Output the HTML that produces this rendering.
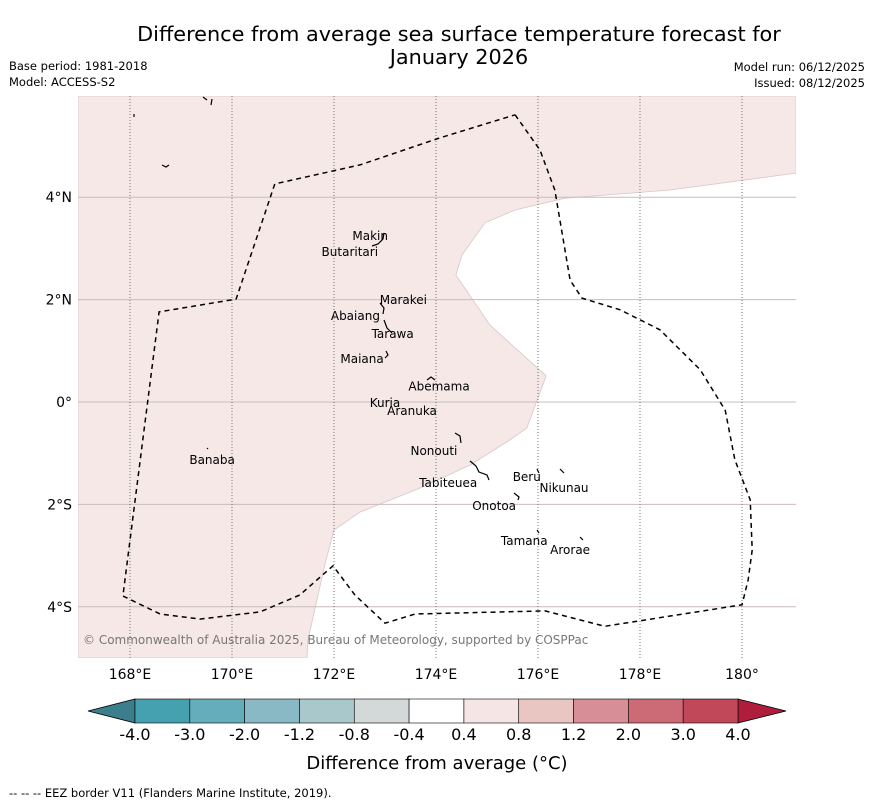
<!DOCTYPE html>
<html><head><meta charset="utf-8"><style>
body{margin:0;background:#fff;}
svg{display:block;font-family:"DejaVu Sans","Liberation Sans",sans-serif;}
</style></head><body>
<svg id="chart" width="873" height="804" viewBox="0 0 873 804">
<text x="459" y="41" font-size="20.8" text-anchor="middle">Difference from average sea surface temperature forecast for</text>
<text x="459" y="64" font-size="20.8" text-anchor="middle">January 2026</text>
<text x="9" y="70" font-size="11.5">Base period: 1981-2018</text>
<text x="9" y="86" font-size="11.5">Model: ACCESS-S2</text>
<text x="865" y="71" font-size="11.5" text-anchor="end">Model run: 06/12/2025</text>
<text x="865" y="87" font-size="11.5" text-anchor="end">Issued: 08/12/2025</text>
<g id="map"></g>
<g id="cbar"></g>
<text x="437" y="769" font-size="18" text-anchor="middle">Difference from average (°C)</text>
<text x="9" y="797" font-size="11.5">--  --  -- EEZ border V11 (Flanders Marine Institute, 2019).</text>
</svg>
<script>
const lonTicks=[168,170,172,174,176,178,180];
const lonLabels=["168°E","170°E","172°E","174°E","176°E","178°E","180°"];
const latTicks=[4,2,0,-2,-4];
const latLabels=["4°N","2°N","0°","2°S","4°S"];
const cbLevels=["-4.0","-3.0","-2.0","-1.2","-0.8","-0.4","0.4","0.8","1.2","2.0","3.0","4.0"];
const cbColors=["#45a0b0","#66adbb","#89b9c4","#a8c8cc","#d3d8d8","#ffffff","#f5e6e5","#eac6c2","#d88e96","#cc6a76","#c14858"];
const shadeLon=[181.06,178.59,176.53,175.55,174.96,174.51,174.39,175.06,176.16,175.78,175.45,174.67,173.69,172.51,172.0,171.82,171.49,171.47];
const shadeLat=[4.47,4.14,3.98,3.75,3.5,2.87,2.48,1.5,0.51,-0.51,-0.74,-1.23,-1.68,-2.15,-2.5,-3.18,-4.65,-5.0];
const eezLon=[175.55,176.04,176.33,176.63,176.86,177.61,178.39,179.18,179.67,179.86,180.16,180.2,180.12,180.0,177.31,176.14,173.59,173.0,172.41,171.98,171.33,170.55,169.37,168.59,167.86,168.57,170.08,170.84,172.51,174.08,175.55];
const eezLat=[5.61,4.92,4.14,2.38,2.03,1.8,1.41,0.63,-0.16,-1.13,-1.91,-2.89,-3.48,-3.96,-4.38,-4.08,-4.14,-4.32,-3.77,-3.2,-3.77,-4.1,-4.24,-4.14,-3.79,1.76,2.01,4.26,4.63,5.16,5.61];
const islandNames=["Makin","Butaritari","Marakei","Abaiang","Tarawa","Maiana","Abemama","Kuria","Aranuka","Nonouti","Banaba","Beru","Nikunau","Tabiteuea","Onotoa","Tamana","Arorae"];
const islandLon=[172.71,172.31,173.36,172.42,173.15,172.55,174.06,173.0,173.53,173.96,169.61,175.78,176.51,174.24,175.14,175.73,176.63];
const islandLat=[3.22,2.91,1.97,1.66,1.31,0.82,0.28,-0.04,-0.2,-0.98,-1.15,-1.48,-1.7,-1.6,-2.05,-2.73,-2.91];

const NS="http://www.w3.org/2000/svg";
const x0=78,x1=796,y0=96,y1=658;
const X=l=>130+(l-168)*51;
const Y=a=>402-a*51.2;
function mk(tag,attrs,parent){const e=document.createElementNS(NS,tag);for(const k in attrs)e.setAttribute(k,attrs[k]);parent.appendChild(e);return e;}
const map=document.getElementById('map');


const clip=mk('clipPath',{id:'mc'},mk('defs',{},map));
mk('rect',{x:x0,y:y0,width:x1-x0,height:y1-y0},clip);
const g=mk('g',{'clip-path':'url(#mc)'},map);
mk('rect',{x:x0,y:y0,width:x1-x0,height:y1-y0,fill:'#fff'},g);
let d='M'+x0+','+y0+' L'+x1+','+y0;
shadeLon.forEach((l,i)=>{d+=' L'+X(l).toFixed(1)+','+Y(shadeLat[i]).toFixed(1);});
d+=' L'+x0+','+y1+' Z';
const sh=mk('path',{d:d,fill:'#f5e8e7',stroke:'#d8c8c8','stroke-width':0.8},g);


latTicks.forEach((a,i)=>{
 const ln=mk('line',{x1:x0,x2:x1,y1:Y(a),y2:Y(a),stroke:'#c9bcbf','stroke-width':1},g);
 
 
 const t=mk('text',{x:72,y:Y(a)+5,'font-size':14,'text-anchor':'end'},map);
 t.textContent=latLabels[i];
 
 
});
lonTicks.forEach((l,i)=>{
 const ln=mk('line',{x1:X(l),x2:X(l),y1:y0,y2:y1,stroke:'#555','stroke-width':0.8,'stroke-dasharray':'1,2'},g);
 
 
 const t=mk('text',{x:X(l),y:679,'font-size':14,'text-anchor':'middle'},map);
 t.textContent=lonLabels[i];
 
 
});
let e='';
eezLon.forEach((l,i)=>{e+=(i?' L':'M')+X(l).toFixed(1)+','+Y(eezLat[i]).toFixed(1);});
const ez=mk('path',{d:e,fill:'none',stroke:'#000','stroke-width':1.5,'stroke-dasharray':'5,4'},g);


islandNames.forEach((n,i)=>{
 const t=mk('text',{x:X(islandLon[i]),y:Y(islandLat[i])+3,'font-size':12,'text-anchor':'middle'},g);
 t.textContent=n;
 
 
});
const shapes=["M372,246 l6,-2 l5,-5 l1,-6","M380,303 l4,5 l-1,6","M384,320 l3,8 l5,5","M385,358 l3,-3 l-2,-4","M427,380 l4,-3 l4,3","M455,433 l5,3 l1,7","M470,461 l6,5 l3,6 l8,3 l2,5","M537,469 l2,4","M560,469 l4,4","M514,493 l5,4 l-1,3","M580,537 l3,3","M537,530 l2,3","M207,448 l1,1","M134,114 l0,3","M162,165 l4,2 l3,-2","M203,97 l4,3 M212,99 l-1,6"];
shapes.forEach(s=>{const p=mk('path',{d:s,fill:'none',stroke:'#000','stroke-width':1.2},g);
 
 });
const cp=mk('text',{x:83,y:644,'font-size':12,fill:'#777'},g);
cp.textContent='© Commonwealth of Australia 2025, Bureau of Meteorology, supported by COSPPac';



const cb=document.getElementById('cbar');


const cx0=135,cx1=738,cy0=699,cy1=723,n=cbColors.length,w=(cx1-cx0)/n;
const lt=mk('path',{d:`M${cx0},${cy0} L88,711 L${cx0},${cy1} Z`,fill:'#3b7f8c',stroke:'#000','stroke-width':0.8},cb);


const rt=mk('path',{d:`M${cx1},${cy0} L786,711 L${cx1},${cy1} Z`,fill:'#ae1d3b',stroke:'#000','stroke-width':0.8},cb);


cbColors.forEach((c,i)=>{
 const r=mk('rect',{x:cx0+i*w,y:cy0,width:w,height:cy1-cy0,fill:c,stroke:'#000','stroke-width':0.6},cb);
 
 
});
cbLevels.forEach((v,i)=>{
 const t=mk('text',{x:cx0+i*w,y:740,'font-size':16,'text-anchor':'middle'},cb);
 t.textContent=v;
 
 
});
</script>
</body></html>
